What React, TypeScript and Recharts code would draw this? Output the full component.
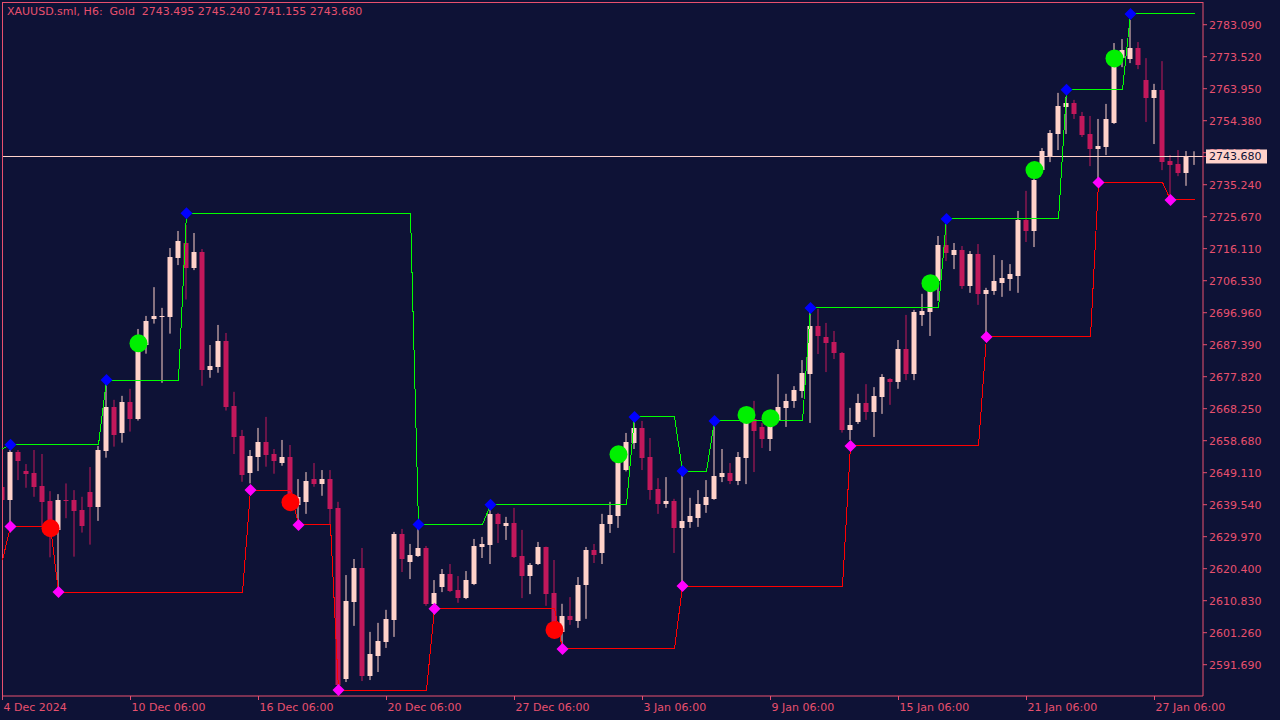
import { ComposedChart, Bar, Line, Scatter, XAxis, YAxis, ReferenceLine } from 'recharts';

const BG = '#0e1236';
const AXIS = '#e8506e';
const BULL = '#ffd2ca';
const BEAR = '#c2185b';
const FONT = '"DejaVu Sans", sans-serif';

// H6 bars, 4 Dec 2024 .. 28 Jan 2025
const OPEN = [
  2644.9, 2641.0, 2655.4, 2649.6, 2649.0, 2645.2, 2640.7, 2632.0, 2641.0, 2641.0,
  2638.0, 2643.3, 2639.0, 2655.6, 2668.9, 2661.1, 2670.4, 2665.2, 2687.3, 2695.2,
  2695.7, 2695.8, 2713.4, 2717.8, 2710.4, 2715.1, 2679.9, 2680.8, 2688.5, 2669.1,
  2660.1, 2649.1, 2653.9, 2658.3, 2654.8, 2652.0, 2653.8, 2639.5, 2640.4, 2647.2,
  2645.7, 2647.2, 2638.6, 2587.4, 2610.5, 2620.6, 2588.3, 2594.3, 2598.5, 2605.1,
  2630.8, 2622.4, 2624.2, 2626.6, 2609.9, 2614.9, 2618.8, 2614.0, 2611.6, 2615.8,
  2626.9, 2627.5, 2636.8, 2633.2, 2634.1, 2624.2, 2618.2, 2621.8, 2626.9, 2613.1,
  2601.5, 2606.3, 2604.8, 2615.5, 2626.0, 2625.1, 2633.8, 2636.2, 2649.9, 2658.0,
  2662.5, 2653.8, 2644.2, 2639.8, 2640.7, 2632.6, 2634.4, 2635.6, 2639.5, 2641.3,
  2647.8, 2649.0, 2646.6, 2653.5, 2665.2, 2662.8, 2659.2, 2664.9, 2668.5, 2670.6,
  2673.6, 2678.6, 2693.0, 2689.7, 2688.2, 2684.9, 2661.9, 2664.3, 2670.0, 2667.3,
  2671.8, 2677.1, 2676.2, 2686.1, 2678.6, 2696.3, 2697.2, 2706.4, 2717.2, 2714.2,
  2715.7, 2705.0, 2714.5, 2702.6, 2703.5, 2705.9, 2707.0, 2707.9, 2724.7, 2721.4,
  2739.6, 2743.8, 2750.4, 2758.5, 2759.7, 2755.8, 2750.4, 2745.9, 2746.5, 2753.7,
  2773.1, 2772.8, 2776.1, 2766.6, 2761.2, 2763.6, 2742.3, 2741.4, 2738.7, 2743.495,
];
const HIGH = [
  2646.9, 2655.9, 2655.9, 2651.7, 2655.9, 2654.7, 2643.6, 2642.7, 2645.9, 2643.9,
  2641.9, 2650.8, 2657.1, 2677.1, 2670.9, 2672.1, 2674.2, 2692.1, 2696.0, 2704.6,
  2698.4, 2716.3, 2721.4, 2723.2, 2720.8, 2716.0, 2687.3, 2693.3, 2690.9, 2673.3,
  2661.9, 2655.9, 2662.5, 2665.8, 2656.2, 2658.9, 2657.4, 2647.2, 2649.3, 2652.0,
  2649.9, 2649.9, 2640.4, 2618.5, 2623.3, 2626.6, 2601.5, 2604.2, 2608.1, 2631.4,
  2632.3, 2627.8, 2633.8, 2627.2, 2617.0, 2620.3, 2621.8, 2618.2, 2619.7, 2629.3,
  2629.9, 2638.0, 2637.1, 2635.9, 2638.6, 2632.0, 2622.1, 2628.4, 2627.0, 2623.0,
  2609.9, 2611.9, 2617.9, 2626.9, 2627.8, 2636.8, 2640.4, 2654.4, 2661.0, 2664.9,
  2664.6, 2659.5, 2647.5, 2647.8, 2641.3, 2649.9, 2641.6, 2643.9, 2646.9, 2664.0,
  2656.2, 2652.0, 2655.3, 2667.3, 2670.6, 2664.0, 2665.8, 2678.6, 2672.7, 2675.0,
  2682.8, 2698.1, 2698.1, 2693.9, 2691.5, 2685.2, 2668.5, 2672.7, 2675.6, 2674.7,
  2678.6, 2677.4, 2688.8, 2696.3, 2697.8, 2702.6, 2706.7, 2719.9, 2723.2, 2717.8,
  2716.9, 2715.4, 2717.5, 2704.4, 2714.2, 2712.7, 2711.5, 2727.4, 2733.4, 2740.2,
  2746.2, 2751.6, 2762.7, 2761.5, 2760.6, 2757.0, 2755.8, 2754.9, 2759.4, 2777.6,
  2778.8, 2784.5, 2777.9, 2773.1, 2765.4, 2772.2, 2744.1, 2745.6, 2745.3, 2745.24,
];
const LOW = [
  2639.5, 2631.2, 2646.9, 2644.6, 2641.9, 2633.0, 2623.8, 2614.5, 2635.5, 2624.0,
  2631.2, 2627.6, 2634.7, 2653.6, 2656.9, 2658.1, 2661.4, 2664.7, 2684.7, 2693.7,
  2676.0, 2690.7, 2711.2, 2700.9, 2709.7, 2675.1, 2677.5, 2679.0, 2667.7, 2654.7,
  2646.4, 2645.9, 2649.6, 2650.9, 2648.8, 2651.2, 2638.0, 2635.0, 2636.8, 2644.9,
  2642.2, 2633.8, 2584.1, 2586.5, 2603.3, 2586.8, 2587.1, 2589.5, 2596.7, 2600.0,
  2619.4, 2617.3, 2623.9, 2609.3, 2606.6, 2613.4, 2613.4, 2610.2, 2611.3, 2615.5,
  2623.6, 2621.8, 2628.1, 2629.0, 2623.6, 2611.6, 2612.8, 2621.5, 2609.3, 2601.5,
  2597.9, 2603.6, 2602.7, 2605.4, 2622.1, 2621.8, 2631.1, 2632.6, 2649.5, 2656.2,
  2649.9, 2641.0, 2636.8, 2638.6, 2625.1, 2615.2, 2632.6, 2632.9, 2637.1, 2641.0,
  2646.3, 2645.7, 2645.4, 2645.7, 2649.3, 2656.5, 2655.6, 2664.5, 2662.8, 2668.5,
  2671.5, 2664.0, 2684.6, 2679.2, 2683.1, 2661.1, 2658.9, 2663.7, 2664.9, 2659.8,
  2666.7, 2669.4, 2674.2, 2676.8, 2676.8, 2693.0, 2690.0, 2700.5, 2712.4, 2710.0,
  2704.1, 2702.9, 2699.3, 2690.9, 2702.3, 2701.7, 2703.5, 2702.9, 2718.1, 2716.6,
  2739.0, 2742.0, 2745.6, 2750.4, 2754.9, 2749.5, 2740.8, 2736.7, 2744.1, 2753.4,
  2770.4, 2771.6, 2769.8, 2754.0, 2747.4, 2739.6, 2731.9, 2737.8, 2734.9, 2741.155,
];
const CLOSE = [
  2641.0, 2655.4, 2652.7, 2648.8, 2644.9, 2640.4, 2634.5, 2641.0, 2640.7, 2637.7,
  2633.2, 2638.9, 2655.9, 2668.9, 2660.4, 2670.4, 2665.2, 2685.8, 2694.5, 2696.0,
  2696.1, 2713.6, 2718.4, 2710.4, 2715.1, 2679.9, 2681.0, 2688.5, 2668.9, 2659.9,
  2648.4, 2654.1, 2658.3, 2654.4, 2652.6, 2653.8, 2640.4, 2641.9, 2646.6, 2645.7,
  2647.2, 2638.3, 2585.6, 2610.7, 2620.6, 2588.3, 2594.9, 2598.8, 2605.4, 2630.8,
  2623.3, 2624.5, 2626.6, 2609.9, 2613.1, 2618.8, 2613.7, 2611.6, 2617.0, 2627.2,
  2627.8, 2636.8, 2633.8, 2634.1, 2623.9, 2618.2, 2621.5, 2626.9, 2612.8, 2603.6,
  2606.3, 2605.1, 2615.5, 2626.0, 2624.5, 2633.8, 2636.5, 2652.9, 2658.3, 2662.5,
  2653.5, 2643.9, 2639.8, 2640.7, 2632.6, 2634.7, 2636.2, 2639.8, 2641.9, 2648.1,
  2649.0, 2646.6, 2653.8, 2664.9, 2661.6, 2659.2, 2664.3, 2668.8, 2670.6, 2673.9,
  2678.9, 2693.0, 2690.0, 2687.9, 2684.9, 2661.9, 2663.4, 2670.0, 2667.3, 2672.1,
  2677.7, 2676.2, 2686.1, 2678.6, 2697.2, 2697.5, 2705.9, 2717.2, 2714.8, 2715.7,
  2705.0, 2714.5, 2702.6, 2703.8, 2706.4, 2707.3, 2708.5, 2724.7, 2721.4, 2736.7,
  2745.3, 2750.7, 2758.8, 2759.7, 2756.4, 2750.1, 2745.9, 2746.8, 2754.9, 2771.9,
  2775.5, 2776.1, 2771.0, 2761.2, 2763.6, 2742.0, 2741.1, 2738.7, 2743.8, 2743.68,
];

// [first bar, level] - level holds until the next entry
const UPPER_RUNS = [
  [0, 2656.2], [1, 2657.5], [13, 2676.8], [23, 2726.7], [52, 2633.6], [61, 2639.5],
  [79, 2665.8], [85, 2649.6], [89, 2664.6], [101, 2698.4], [118, 2725.0], [133, 2763.6],
  [141, 2786.3],
];
const LOWER_RUNS = [
  [0, 2623.0], [1, 2633.0], [7, 2613.4], [31, 2643.9], [37, 2633.5], [42, 2584.1],
  [54, 2608.4], [70, 2596.4], [85, 2615.2], [106, 2657.1], [123, 2689.7], [137, 2735.9],
  [146, 2730.7],
];

const BUY_BARS = [17, 77, 93, 96, 116, 129, 139];
const BUY_PRICES = [2687.8, 2654.6, 2666.4, 2665.4, 2705.8, 2739.6, 2773.0];
const SELL_BARS = [6, 36, 69];
const SELL_PRICES = [2632.5, 2640.3, 2602.1];

const TICK_BARS = [0, 16, 32, 48, 64, 80, 96, 112, 128, 144];
const DATE_LABELS = [
  '4 Dec 2024', '10 Dec 06:00', '16 Dec 06:00', '20 Dec 06:00', '27 Dec 06:00',
  '3 Jan 06:00', '9 Jan 06:00', '15 Jan 06:00', '21 Jan 06:00', '27 Jan 06:00',
];
const PRICE_TICKS = [
  2591.69, 2601.26, 2610.83, 2620.4, 2629.97, 2639.54, 2649.11, 2658.68, 2668.25,
  2677.82, 2687.39, 2696.96, 2706.53, 2716.11, 2725.67, 2735.24, 2744.81, 2754.38,
  2763.95, 2773.52, 2783.09,
];
const LAST = 2743.68;
const TITLE = 'XAUUSD.sml, H6:  Gold  2743.495 2745.240 2741.155 2743.680';

const X_DOMAIN = [-0.0625, 150.0625];
const Y_DOMAIN = [2582.33, 2789.88];

const levelAt = (runs: number[][], i: number) => {
  let v = runs[0][1];
  runs.forEach(([start, level]) => {
    if (start <= i) v = level;
  });
  return v;
};

const rows = OPEN.map((open, i) => ({
  i,
  open,
  high: HIGH[i],
  low: LOW[i],
  close: CLOSE[i],
  range: [LOW[i], HIGH[i]],
  up: levelAt(UPPER_RUNS, i),
  dn: levelAt(LOWER_RUNS, i),
}));

const marks = (runs: number[][]) => runs.slice(1).map(([i, v]) => ({ i, v }));
const upMarks = marks(UPPER_RUNS);
const dnMarks = marks(LOWER_RUNS);
const buys = BUY_BARS.map((i, k) => ({ i, v: BUY_PRICES[k] }));
const sells = SELL_BARS.map((i, k) => ({ i, v: SELL_PRICES[k] }));

function Candle(props: any) {
  let { x, y, width, height, payload } = props;
  if (height == null || !payload) return null;
  if (height < 0) {
    y += height;
    height = -height;
  }
  const { open, close, high, low } = payload;
  const cx = x + width / 2;
  const toY = (p: number) => y + ((high - p) / (high - low)) * height;
  const color = close >= open ? BULL : BEAR;
  const top = Math.round(toY(Math.max(open, close)));
  const bot = Math.round(toY(Math.min(open, close)));
  return (
    <g>
      <line x1={cx} x2={cx} y1={y} y2={y + height} stroke={color} strokeWidth={1} />
      <rect x={cx - 2.5} y={top} width={5} height={Math.max(1, bot - top)} fill={color} />
    </g>
  );
}

const diamond = (fill: string) => (p: any) => (
  <polygon
    points={`${p.cx},${p.cy - 6} ${p.cx + 6},${p.cy} ${p.cx},${p.cy + 6} ${p.cx - 6},${p.cy}`}
    fill={fill}
  />
);

const dot = (fill: string) => (p: any) => <circle cx={p.cx} cy={p.cy} r={9} fill={fill} />;

function DateTick(props: any) {
  const { x, y, payload } = props;
  return (
    <text x={x + 1} y={y} dy={9} fill={AXIS} fontSize={11} fontFamily={FONT} textAnchor="start">
      {DATE_LABELS[TICK_BARS.indexOf(payload.value)]}
    </text>
  );
}

function PriceTick(props: any) {
  const { x, y, payload } = props;
  const v = payload.value;
  if (v === LAST) {
    return (
      <g>
        <rect x={x - 3} y={y - 7} width={61} height={14} fill={BULL} />
        <text x={x} y={y} dy={4} fill={BG} fontSize={11} fontFamily={FONT}>
          {v.toFixed(3)}
        </text>
      </g>
    );
  }
  return (
    <text x={x} y={y} dy={4} fill={AXIS} fontSize={11} fontFamily={FONT}>
      {v.toFixed(3)}
    </text>
  );
}

export default function App() {
  return (
    <div style={{ position: 'absolute', left: 0, top: 0, width: 1280, height: 720, background: BG }}>
      <ComposedChart
        width={1280}
        height={720}
        data={rows}
        margin={{ top: 2, right: 0, bottom: 0, left: 2 }}
      >
        <XAxis
          type="number"
          dataKey="i"
          domain={X_DOMAIN}
          allowDataOverflow
          ticks={TICK_BARS}
          interval={0}
          tick={<DateTick />}
          tickSize={4}
          tickMargin={2}
          height={24}
          stroke={AXIS}
        />
        <YAxis
          type="number"
          orientation="right"
          domain={Y_DOMAIN}
          allowDataOverflow
          ticks={[...PRICE_TICKS, LAST]}
          interval={0}
          tick={<PriceTick />}
          tickSize={4}
          tickMargin={2}
          width={77}
          stroke={AXIS}
        />
        <ReferenceLine y={LAST} stroke={BULL} strokeWidth={1} shapeRendering="crispEdges" />
        <ReferenceLine x={X_DOMAIN[0] + 0.0625} stroke={AXIS} strokeWidth={1} />
        <ReferenceLine y={Y_DOMAIN[1] - 0.15} stroke={AXIS} strokeWidth={1} />
        <Bar dataKey="range" barSize={5} shape={<Candle />} isAnimationActive={false} />
        <Line
          dataKey="up"
          stroke="#00ff00"
          strokeWidth={1}
          shapeRendering="crispEdges"
          dot={false}
          activeDot={false}
          isAnimationActive={false}
        />
        <Line
          dataKey="dn"
          stroke="#ff0000"
          strokeWidth={1}
          shapeRendering="crispEdges"
          dot={false}
          activeDot={false}
          isAnimationActive={false}
        />
        <Scatter data={upMarks} dataKey="v" shape={diamond('#0000ff')} isAnimationActive={false} />
        <Scatter data={dnMarks} dataKey="v" shape={diamond('#ff00ff')} isAnimationActive={false} />
        <Scatter data={buys} dataKey="v" shape={dot('#00f000')} isAnimationActive={false} />
        <Scatter data={sells} dataKey="v" shape={dot('#ff0000')} isAnimationActive={false} />
      </ComposedChart>
      <div
        style={{
          position: 'absolute',
          left: 7,
          top: 5,
          color: AXIS,
          fontSize: 11,
          fontFamily: FONT,
          whiteSpace: 'pre',
          lineHeight: '13px',
        }}
      >
        {TITLE}
      </div>
    </div>
  );
}
